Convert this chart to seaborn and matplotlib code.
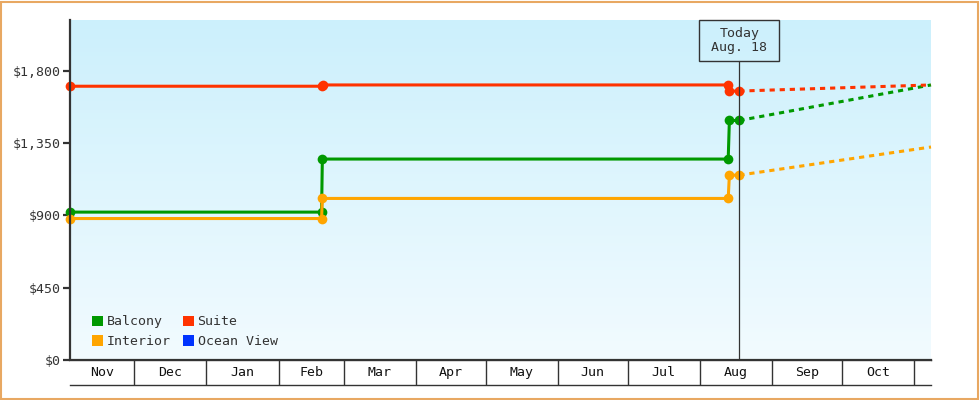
import numpy as np
import pandas as pd
import seaborn as sb
import matplotlib.pyplot as plt
import matplotlib.dates as mdates
from matplotlib.patches import Patch, Rectangle

balcony_dates = ["2018-11-03 10:00", "2019-02-19 12:00", "2019-02-19 20:00",
                 "2019-08-13 05:00", "2019-08-13 17:00", "2019-08-18 00:00"]
balcony_prices = [920, 920, 1250, 1250, 1490, 1490]

interior_dates = ["2018-11-03 10:00", "2019-02-19 12:00", "2019-02-19 20:00",
                  "2019-08-13 05:00", "2019-08-13 17:00", "2019-08-18 00:00"]
interior_prices = [880, 880, 1005, 1005, 1150, 1150]

suite_dates = ["2018-11-03 10:00", "2019-02-19 12:00", "2019-02-19 22:00",
               "2019-08-13 05:00", "2019-08-13 12:00", "2019-08-18 00:00"]
suite_prices = [1703, 1703, 1711, 1711, 1673, 1673]

proj_dates = ["2019-08-18 00:00", "2019-11-08 08:00"]
balcony_proj = [1490, 1711]
interior_proj = [1150, 1325]
suite_proj = [1673, 1711]

rooms = ["Balcony", "Interior", "Suite", "Ocean View"]
room_colors = {"Balcony": "#009900", "Interior": "#ffa500",
               "Suite": "#ff3300", "Ocean View": "#0033ff"}

yticks = [0, 450, 900, 1350, 1800]
today = "2019-08-18"
today_label = "Today\nAug. 18"
x_start = pd.Timestamp("2018-11-03 10:00")
x_end = pd.Timestamp("2019-11-08 08:00")
y_top = 2115

actual = pd.concat([
    pd.DataFrame({"date": pd.to_datetime(balcony_dates), "price": balcony_prices, "room": "Balcony"}),
    pd.DataFrame({"date": pd.to_datetime(interior_dates), "price": interior_prices, "room": "Interior"}),
    pd.DataFrame({"date": pd.to_datetime(suite_dates), "price": suite_prices, "room": "Suite"}),
])
projected = pd.concat([
    pd.DataFrame({"date": pd.to_datetime(proj_dates), "price": balcony_proj, "room": "Balcony"}),
    pd.DataFrame({"date": pd.to_datetime(proj_dates), "price": interior_proj, "room": "Interior"}),
    pd.DataFrame({"date": pd.to_datetime(proj_dates), "price": suite_proj, "room": "Suite"}),
])

textcolor = "#333333"
sb.set_style("white")
plt.rcParams['font.family'] = ['DejaVu Sans Mono', 'DejaVu Sans']
plt.rcParams['font.size'] = 9.5

fig = plt.figure(figsize=(9.8, 4.0), dpi=100)
ax = fig.add_axes([70 / 980, 40 / 400, 861 / 980, 340 / 400])
band = fig.add_axes([70 / 980, 15 / 400, 861 / 980, 25 / 400], sharex=ax)

# gradient background
grad = np.linspace(0, 1, 256).reshape(-1, 1)
top_c = np.array([204, 240, 252]) / 255
bot_c = np.array([242, 251, 255]) / 255
img = top_c[None, None, :] * (1 - grad[:, :, None]) + bot_c[None, None, :] * grad[:, :, None]
ax.imshow(img, extent=[mdates.date2num(x_start), mdates.date2num(x_end), 0, y_top],
          aspect='auto', zorder=0, origin='upper')

# lines
pal = {r: room_colors[r] for r in ["Balcony", "Interior", "Suite"]}
sb.lineplot(data=projected, x="date", y="price", hue="room", palette=pal, estimator=None,
            linewidth=2.2, linestyle=(0, (1.7, 1.6)), legend=False, ax=ax, zorder=3)
sb.lineplot(data=actual, x="date", y="price", hue="room", palette=pal, estimator=None,
            linewidth=2.2, marker="o", markersize=7, markeredgewidth=0, legend=False,
            ax=ax, zorder=4)
for ln in ax.lines:
    ln.set_clip_on(False)

ax.set_xlim(x_start, x_end)
ax.set_ylim(0, y_top)
ax.set_yticks(yticks)
ax.set_yticklabels(["${:,}".format(v) for v in yticks])
ax.tick_params(axis='y', length=5, width=1.6, color=textcolor, labelcolor=textcolor, pad=2, left=True)
ax.tick_params(axis='x', bottom=False, labelbottom=False)
ax.set_xlabel("")
ax.set_ylabel("")
for b in ['top', 'right']:
    ax.spines[b].set_visible(False)
for b in ['left', 'bottom']:
    ax.spines[b].set_color(textcolor)
    ax.spines[b].set_linewidth(1.6)
    ax.spines[b].set_zorder(5)

# today marker
t = pd.Timestamp(today)
tf = (mdates.date2num(t) - mdates.date2num(x_start)) / (mdates.date2num(x_end) - mdates.date2num(x_start))
box_w = 80 / 861
box_h = 41 / 340
ax.add_patch(Rectangle((tf - box_w / 2, 1 - box_h), box_w, box_h, transform=ax.transAxes,
                       facecolor="none", edgecolor=textcolor, linewidth=1.0, zorder=6, clip_on=False))
ax.text(tf, 1 - box_h / 2, today_label, transform=ax.transAxes, ha='center', va='center',
        color=textcolor, linespacing=1.15, zorder=6)
ax.axvline(t, ymin=0, ymax=1 - box_h, color=textcolor, linewidth=0.9, zorder=5)

# legend
handles = [Patch(facecolor=room_colors[r], edgecolor='none', label=r) for r in rooms]
ax.legend(handles=handles, ncol=2, loc='lower left', bbox_to_anchor=(22 / 861, 12 / 340),
          frameon=False, handlelength=0.85, handleheight=0.85, handletextpad=0.25,
          columnspacing=0.95, labelspacing=0.5, borderpad=0, borderaxespad=0,
          labelcolor=textcolor)

# month band
month_starts = pd.date_range("2018-11-01", "2019-12-01", freq="MS")
for ms in month_starts:
    if x_start < ms < x_end:
        band.axvline(ms, color=textcolor, linewidth=1.0)
for a, b in zip(month_starts[:-1], month_starts[1:]):
    lo, hi = max(a, x_start), min(b, x_end)
    if (hi - lo).days > 15:
        band.text(lo + (hi - lo) / 2, 0.5, a.strftime("%b"), ha='center', va='center',
                  color='#111111', transform=band.get_xaxis_transform())
band.set_ylim(0, 1)
band.set_yticks([])
band.tick_params(axis='x', bottom=False, labelbottom=False)
band.set_facecolor("white")
for b in ['left', 'right']:
    band.spines[b].set_visible(False)
for b in ['top', 'bottom']:
    band.spines[b].set_color(textcolor)
    band.spines[b].set_linewidth(1.0)
band.set_xlim(x_start, x_end)

# orange frame around figure
fig.patches.append(Rectangle((1 / 980, 1 / 400), 977 / 980, 397 / 400, transform=fig.transFigure,
                             fill=False, edgecolor="#e8a862", linewidth=1.5))

plt.savefig("out.png", dpi=100)
